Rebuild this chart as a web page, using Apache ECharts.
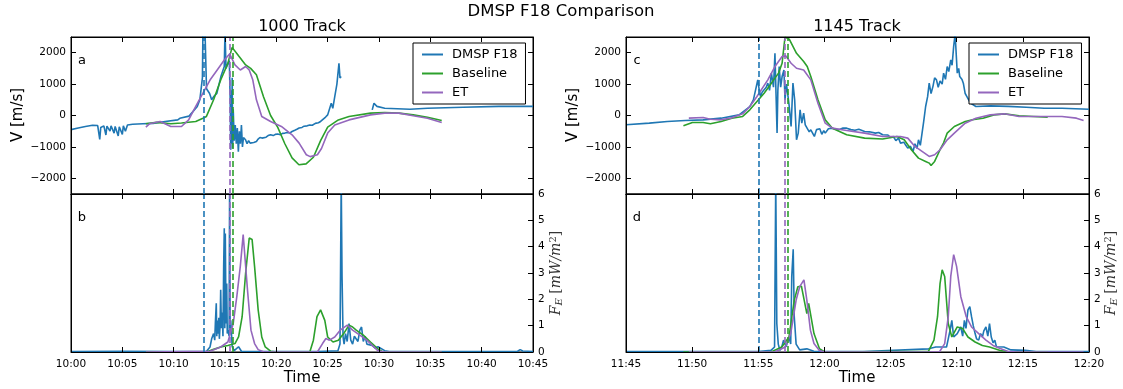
<!DOCTYPE html>
<html>
<head>
<meta charset="utf-8">
<script src="https://cdn.jsdelivr.net/npm/echarts@6.0.0/dist/echarts.min.js"></script>
<style>
  html, body { margin: 0; padding: 0; background: #fff; }
  #chart { width: 1123px; height: 389px; }
</style>
</head>
<body>
<div id="chart"></div>
<script>
// x values are minutes after the panel start time
var leftStart = 600;   // 10:00
var rightStart = 705;  // 11:45
var leftSpan = 45;
var rightSpan = 35;
var velTicks = [-2000, -1000, 0, 1000, 2000];
var seriesNames = ['DMSP F18', 'Baseline', 'ET'];

// 1000 track, velocity
var dmspVelA = [[0,-450],[0.7,-400],[1.4,-350],[2.1,-310],[2.6,-320],[2.8,-760],[2.9,-380],[3.2,-330],[3.4,-620],[3.5,-340],[3.8,-500],[3.9,-330],[4.2,-560],[4.3,-350],[4.6,-650],[4.7,-360],[5.0,-600],[5.1,-330],[5.3,-500],[5.5,-300],[6,-280],[7,-265],[8,-250],[9,-200],[10.4,-140],[10.6,-90],[11.5,-20],[12.3,290],[12.55,500],[12.8,1200],[12.85,2700],[13.05,2700],[13.2,850],[13.5,700],[13.7,500],[13.9,600],[14.2,700],[14.6,1240],[14.93,1560],[15.0,2700],[15.1,1500],[15.28,1660],[15.42,1750],[15.5,600],[15.56,-1090],[15.6,800],[15.65,-900],[15.7,1200],[15.75,-1050],[15.8,200],[15.9,-800],[16.0,-300],[16.1,-900],[16.2,-400],[16.3,-1150],[16.4,-500],[16.5,-900],[16.6,-300],[16.7,-1000],[16.8,-700],[17.0,-770],[17.15,-900],[17.3,-800],[17.45,-880],[17.6,-820],[17.8,-860],[18.06,-830],[18.2,-760],[18.4,-700],[18.6,-720],[18.75,-670],[19.0,-690],[19.2,-640],[19.44,-610],[19.7,-640],[19.9,-600],[20.14,-590],[20.4,-610],[20.6,-570],[20.83,-560],[21.1,-540],[21.3,-560],[21.53,-510],[21.8,-470],[22.0,-440],[22.22,-400],[22.5,-380],[22.7,-340],[23.0,-330],[23.26,-300],[23.5,-310],[23.8,-250],[24.1,-230],[24.31,-190],[24.5,-130],[24.8,-50],[25.0,20],[25.35,390],[25.5,230],[25.69,600],[25.9,1000],[26.1,1660],[26.2,1200],[26.32,1240],[27.5,'-'],[29.34,180],[29.51,390],[29.8,290],[30.56,230],[33,200],[34.72,230],[38.19,265],[41.67,290],[45,290]];
var baseVelA = [[7.29,-265],[8.33,-220],[9.72,-265],[10.76,-240],[12.15,-190],[12.85,-85],[13.19,-30],[13.89,500],[14.58,1130],[15.28,1660],[15.69,2170],[16.32,1900],[17.01,1610],[17.5,1500],[18.06,1300],[18.75,600],[19.44,0],[20.14,-380],[20.83,-900],[21.53,-1350],[22.2,-1570],[22.9,-1540],[23.61,-1330],[24.31,-800],[25.0,-370],[26.04,-140],[27.08,-30],[29.17,75],[30.56,95],[31.94,75],[33.33,20],[34.72,-55],[36.11,-160]];
var etVelA = [[7.29,-370],[7.64,-265],[8.68,-190],[9.72,-350],[10.76,-350],[11.46,-140],[12.15,290],[12.85,710],[13.54,1130],[14.24,1450],[14.93,1770],[15.45,1960],[15.97,1610],[16.49,1450],[17.01,1560],[17.36,1450],[17.71,1130],[18.06,500],[18.58,-30],[19.44,-190],[20.49,-350],[21.53,-615],[22.22,-880],[22.92,-1250],[23.3,-1310],[24.0,-1250],[24.4,-1050],[25.0,-560],[25.69,-300],[27.08,-140],[29.17,20],[30.56,75],[31.94,75],[33.33,-10],[34.72,-85],[36.11,-220]];

// 1000 track, energy flux
var dmspFluxB = [[0,0.02],[5,0.03],[10,0.02],[13.2,0.03],[13.54,0.19],[13.7,0.5],[13.89,0.7],[14.0,0.45],[14.06,1.08],[14.15,1.85],[14.2,0.6],[14.24,1.2],[14.3,0.7],[14.35,0.83],[14.4,1.3],[14.45,0.5],[14.52,1.0],[14.58,2.36],[14.65,0.9],[14.7,1.5],[14.76,1.08],[14.8,0.6],[14.87,3.25],[14.93,4.7],[14.98,0.9],[15.03,4.5],[15.1,1.08],[15.17,2.6],[15.22,0.7],[15.3,0.83],[15.4,0.6],[15.45,6.5],[15.5,0.8],[15.56,1.2],[15.7,0.2],[15.9,0.05],[16.32,0.2],[16.6,0.03],[17,0.02],[20,0.02],[24,0.02],[26.0,0.05],[26.2,0.3],[26.32,6.5],[26.4,2.87],[26.5,0.57],[26.6,0.3],[26.74,0.7],[26.9,0.4],[27.08,1.08],[27.25,0.45],[27.43,0.3],[27.6,0.6],[27.78,0.57],[27.95,0.4],[28.13,0.83],[28.3,0.95],[28.47,0.4],[28.65,0.6],[28.82,0.3],[29.0,0.35],[29.34,0.25],[29.6,0.15],[29.9,0.2],[30.56,0.05],[31,0.02],[40,0.02],[43.5,0.03],[43.75,0.09],[44.0,0.04],[45,0.02]];
var baseFluxB = [[7.29,0],[13.19,0],[13.89,0.1],[14.58,0.19],[15.28,0.25],[15.97,0.32],[16.32,0.57],[16.67,1.34],[17.01,3.0],[17.36,4.33],[17.64,4.27],[17.88,3.25],[18.23,1.6],[18.58,0.57],[18.92,0.19],[19.44,0.03],[20,0],[23.26,0],[23.61,0.45],[23.96,1.34],[24.31,1.6],[24.48,1.66],[24.72,1.2],[25.0,0.57],[25.52,0.38],[26.04,0.45],[26.56,0.7],[27.08,1.02],[27.43,0.95],[27.78,0.83],[28.47,0.64],[29.17,0.38],[29.86,0.13],[30.38,0],[36.11,0]];
var etFluxB = [[7.29,0],[13.54,0.03],[14.58,0.19],[15.28,0.38],[15.8,1.08],[16.15,2.1],[16.49,3.25],[16.77,4.46],[16.94,4.52],[17.19,2.36],[17.53,0.83],[17.88,0.32],[18.23,0.09],[18.8,0],[24.0,0],[24.5,0.32],[24.83,0.51],[25.17,0.45],[25.69,0.57],[26.22,0.83],[26.91,1.02],[27.43,0.83],[28.13,0.64],[28.82,0.45],[29.34,0.25],[29.86,0.06],[30.5,0],[36.11,0]];

// 1145 track, velocity
var dmspVelC = [[0,-297],[1.76,-244],[3.12,-190],[4.48,-160],[5.83,-138],[7.19,-85],[8.55,20],[9.36,286],[9.63,500],[9.85,920],[9.96,1135],[10.07,816],[10.17,604],[10.3,750],[10.44,700],[10.6,900],[10.72,1030],[10.85,800],[10.99,1350],[11.15,900],[11.26,1980],[11.34,700],[11.42,-560],[11.48,800],[11.58,1560],[11.69,900],[11.8,1240],[11.94,1450],[12.02,500],[12.13,1000],[12.25,600],[12.34,286],[12.48,-350],[12.62,1030],[12.75,500],[12.89,-774],[13.02,-560],[13.16,180],[13.29,-244],[13.43,74],[13.55,-300],[13.7,-300],[13.85,-520],[13.97,-456],[14.1,-500],[14.24,-668],[14.4,-450],[14.51,-509],[14.65,-420],[14.8,-600],[14.95,-480],[15.06,-562],[15.3,-420],[15.45,-470],[15.6,-403],[15.85,-440],[16.1,-450],[16.4,-400],[16.68,-403],[17.0,-450],[17.3,-470],[17.6,-440],[18.04,-509],[18.4,-520],[18.85,-562],[19.1,-540],[19.4,-615],[19.8,-620],[20.0,-700],[20.21,-668],[20.4,-800],[20.6,-720],[20.75,-880],[21.0,-850],[21.15,-950],[21.3,-1040],[21.5,-980],[21.7,-1145],[21.84,-900],[22.0,-1050],[22.11,-774],[22.25,-950],[22.38,-560],[22.5,-200],[22.65,286],[22.8,600],[22.92,1030],[23.06,700],[23.2,920],[23.33,1200],[23.47,1135],[23.6,900],[23.74,1100],[23.9,1000],[24.01,1350],[24.15,1150],[24.28,1560],[24.4,1400],[24.55,1770],[24.65,1600],[24.77,2200],[24.88,2600],[25.04,1350],[25.15,1500],[25.23,1240],[25.4,1150],[25.5,1030],[25.64,700],[25.77,604],[26.04,392],[26.45,286],[27.54,307],[28.89,290],[30.25,265],[31.61,233],[32.96,233],[35,201]];
var baseVelC = [[4.34,-329],[5.02,-223],[5.83,-223],[6.38,-265],[7.19,-190],[8.0,-85],[8.82,-30],[9.36,180],[9.9,445],[10.44,710],[10.99,1030],[11.53,1350],[11.8,1665],[12.02,2500],[12.34,2430],[12.89,1980],[13.43,1720],[13.7,1560],[13.97,1240],[14.51,500],[15.06,-140],[15.6,-403],[16.68,-615],[18.04,-720],[19.4,-750],[20.48,-668],[21.03,-774],[21.57,-1090],[22.11,-1357],[22.65,-1463],[22.92,-1516],[23.06,-1590],[23.33,-1463],[23.74,-1090],[24.01,-870],[24.28,-562],[24.82,-350],[25.64,-190],[26.18,-138],[26.99,-85],[27.81,20],[28.62,53],[29.71,-10],[30.79,-30],[31.88,-53]];
var etVelC = [[4.75,-85],[5.83,-64],[6.38,-117],[7.19,-138],[8.0,-75],[8.82,53],[9.36,286],[9.9,604],[10.72,1135],[11.26,1560],[11.8,1880],[12.07,1900],[12.48,1665],[12.89,1505],[13.43,1450],[13.97,1135],[14.51,392],[15.06,-244],[15.6,-403],[16.68,-477],[18.04,-562],[19.4,-668],[20.75,-668],[21.3,-720],[21.84,-986],[22.38,-1145],[22.92,-1304],[23.33,-1250],[23.74,-1090],[24.28,-774],[24.82,-562],[25.64,-244],[26.45,-85],[27.54,20],[28.62,53],[29.71,-30],[30.79,-30],[31.88,-30],[32.96,-30],[34.05,-85],[34.59,-160]];

// 1145 track, energy flux
var dmspFluxD = [[0,0.02],[5,0.02],[10.02,0.02],[10.96,0.06],[11.23,0.19],[11.32,6.5],[11.4,1.08],[11.51,0.3],[11.64,0.06],[11.78,0.2],[11.91,0.45],[12.1,0.2],[12.32,0.57],[12.45,0.3],[12.53,2.87],[12.64,3.9],[12.72,1.34],[12.86,0.3],[13.13,0.08],[13.67,0.12],[14.2,0.03],[18,0.02],[22.87,0.12],[23.42,0.19],[24.23,0.19],[24.5,0.83],[24.63,1.2],[24.77,0.57],[25.04,0.7],[25.31,0.95],[25.45,0.6],[25.58,1.2],[25.7,0.9],[25.85,1.6],[25.99,1.72],[26.12,1.34],[26.25,1.0],[26.39,0.7],[26.5,0.5],[26.66,0.45],[26.8,0.7],[26.94,0.57],[27.05,0.8],[27.21,0.95],[27.35,0.6],[27.48,1.08],[27.61,0.57],[27.75,0.35],[27.88,0.45],[28.0,0.2],[28.15,0.25],[28.56,0.19],[29.1,0.08],[30.18,0.06],[31,0.02],[35,0.02]];
var baseFluxD = [[4.34,0],[10.96,0],[11.78,0.19],[12.32,0.57],[12.72,1.97],[12.99,2.48],[13.26,2.5],[13.4,2.55],[13.67,1.46],[13.81,1.85],[13.94,1.91],[14.21,0.7],[14.62,0.13],[15.02,0],[22.87,0.03],[23.28,0.45],[23.55,1.34],[23.74,2.6],[23.9,3.12],[24.09,2.87],[24.36,1.08],[24.63,0.57],[25.04,0.95],[25.45,0.89],[25.85,0.57],[26.39,0.38],[26.94,0.25],[27.48,0.19],[28.29,0.06],[29.1,0],[31.88,0]];
var etFluxD = [[4.75,0],[11.23,0],[12.05,0.19],[12.45,0.7],[12.86,1.97],[13.13,2.48],[13.45,2.74],[13.67,1.97],[13.94,0.83],[14.21,0.32],[14.62,0.06],[15.02,0],[23.69,0],[24.09,0.32],[24.36,1.34],[24.55,2.87],[24.77,3.7],[24.99,3.25],[25.31,2.1],[25.72,1.34],[26.12,0.95],[26.66,0.7],[27.21,0.45],[27.75,0.25],[28.29,0.13],[28.83,0.03],[29.5,0],[34.59,0]];

// crossing times (dashed lines): DMSP, Baseline, ET
var markersLeft = [12.95, 15.72, 15.45];
var markersRight = [10.0, 12.24, 12.0];

var colors = ['#1f77b4', '#2ca02c', '#9467bd'];
var font = 'DejaVu Sans';

var chart = echarts.init(document.getElementById('chart'));

/* time label like 10:05 */
function timeFmt(start) {
  return function (v) {
    var t = start + Math.round(v);
    var m = t % 60;
    return Math.floor(t / 60) + ':' + (m < 10 ? '0' + m : m);
  };
}

var grids = [
  { left: 71, top: 37, width: 462, height: 157 },
  { left: 71, top: 194, width: 462, height: 158 },
  { left: 626, top: 37, width: 463, height: 157 },
  { left: 626, top: 194, width: 463, height: 158 }
];
grids.forEach(function (g) {
  g.show = true;
  g.borderColor = '#000';
  g.borderWidth = 1;
});

var tick = { show: true, inside: true, length: 5, lineStyle: { color: '#000', width: 1 } };
var lbl = { color: '#000', fontFamily: font, fontSize: 10.5 };
// spine drawn by the axis itself, kept at the grid edge
var spine = { show: true, onZero: false, lineStyle: { color: '#000', width: 1 } };

var xAxes = [];
var yAxes = [];
for (var g = 0; g < 4; g++) {
  var isLeft = g < 2;
  var isBottom = g % 2 === 1;
  var span = isLeft ? leftSpan : rightSpan;
  var base = {
    type: 'value', gridIndex: g, min: 0, max: span, interval: 5, z: 10,
    axisLine: spine, splitLine: { show: false }, axisTick: tick
  };
  xAxes.push(Object.assign({}, base, {
    position: 'bottom',
    axisLabel: isBottom ? Object.assign({ show: true, margin: 7, showMinLabel: true, showMaxLabel: true,
      formatter: timeFmt(isLeft ? leftStart : rightStart) }, lbl) : { show: false }
  }));
  xAxes.push(Object.assign({}, base, { position: 'top', axisLabel: { show: false } }));

  if (!isBottom) {
    var vel = {
      type: 'value', gridIndex: g, min: -2500, max: 2500, z: 10,
      axisLine: spine, splitLine: { show: false },
      axisTick: Object.assign({ customValues: velTicks }, tick)
    };
    yAxes.push(Object.assign({}, vel, {
      position: 'left',
      axisLabel: Object.assign({ customValues: velTicks, margin: 5,
        formatter: function (v) { return String(v).replace('-', '\u2212'); } }, lbl)
    }));
    yAxes.push(Object.assign({}, vel, { position: 'right', axisLabel: { show: false } }));
  } else {
    yAxes.push({
      type: 'value', gridIndex: g, min: 0, max: 6, position: 'left', z: 10,
      axisLine: spine, axisTick: { show: false }, axisLabel: { show: false }, splitLine: { show: false }
    });
    yAxes.push({
      type: 'value', gridIndex: g, min: 0, max: 6, interval: 1, position: 'right', z: 10,
      axisLine: spine, splitLine: { show: false }, axisTick: tick,
      axisLabel: Object.assign({ margin: 5 }, lbl)
    });
  }
}

var panelData = [
  [dmspVelA, baseVelA, etVelA],
  [dmspFluxB, baseFluxB, etFluxB],
  [dmspVelC, baseVelC, etVelC],
  [dmspFluxD, baseFluxD, etFluxD]
];

var series = [];
panelData.forEach(function (sets, g) {
  var marks = g < 2 ? markersLeft : markersRight;
  var yIdx = g % 2 === 1 ? 2 * g + 1 : 2 * g;
  sets.forEach(function (d, k) {
    series.push({
      name: seriesNames[k],
      type: 'line',
      xAxisIndex: 2 * g,
      yAxisIndex: yIdx,
      data: d,
      showSymbol: false,
      symbol: 'none',
      connectNulls: false,
      z: k === 0 ? 2 : 3,
      lineStyle: { color: colors[k], width: 1.6 },
      itemStyle: { color: colors[k] },
      markLine: {
        silent: true, symbol: 'none', animation: false,
        label: { show: false },
        lineStyle: { color: colors[k], width: 1.6, type: [6, 3] },
        data: [{ xAxis: marks[k] }]
      }
    });
  });
});

function legendAt(x) {
  return {
    left: x, top: 43, orient: 'vertical', z: 20,
    data: seriesNames.slice(),
    icon: 'rect', itemWidth: 21, itemHeight: 2, itemGap: 6,
    backgroundColor: '#fff', borderColor: '#000', borderWidth: 1, borderRadius: 0,
    padding: [5, 8, 5, 9],
    selectedMode: false,
    textStyle: { color: '#000', fontFamily: font, fontSize: 13, lineHeight: 13, padding: [0, 0, 0, 4] }
  };
}

function txt(x, y, text, size, rot) {
  return {
    type: 'text', x: x, y: y, rotation: rot || 0, silent: true,
    style: { text: text, fill: '#000', fontFamily: font, fontSize: size, align: 'center', verticalAlign: 'middle' }
  };
}

var fluxRich = {
  i: { fontFamily: 'DejaVu Serif', fontStyle: 'italic', fontSize: 14, fill: '#333' },
  sub: { fontFamily: 'DejaVu Serif', fontStyle: 'italic', fontSize: 10, fill: '#333', verticalAlign: 'bottom', padding: [6, 0, 0, 0] },
  sup: { fontFamily: 'DejaVu Serif', fontSize: 10, fill: '#333', verticalAlign: 'top', padding: [0, 0, 6, 0] },
  n: { fontFamily: 'DejaVu Serif', fontSize: 14, fill: '#333' }
};
function fluxLabel(x) {
  return {
    type: 'text', x: x, y: 273, rotation: Math.PI / 2, silent: true,
    style: {
      text: '{i|F}{sub|E}{n| [}{i|mW/m}{sup|2}{n|]}',
      rich: fluxRich, align: 'center', verticalAlign: 'middle'
    }
  };
}

var graphics = [
  txt(561, 12, 'DMSP F18 Comparison', 16.5),
  txt(302, 27, '1000 Track', 16),
  txt(857, 27, '1145 Track', 16),
  txt(302, 378, 'Time', 15),
  txt(857, 378, 'Time', 15),
  txt(18, 115, 'V [m/s]', 15, Math.PI / 2),
  txt(573, 115, 'V [m/s]', 15, Math.PI / 2),
  txt(82, 61, 'a', 13),
  txt(82, 218, 'b', 13),
  txt(637, 61, 'c', 13),
  txt(637, 218, 'd', 13),
  fluxLabel(556),
  fluxLabel(1111)
];

chart.setOption({
  animation: false,
  grid: grids,
  xAxis: xAxes,
  yAxis: yAxes,
  legend: [legendAt(413), legendAt(969)],
  graphic: graphics,
  series: series
});
</script>
</body>
</html>
